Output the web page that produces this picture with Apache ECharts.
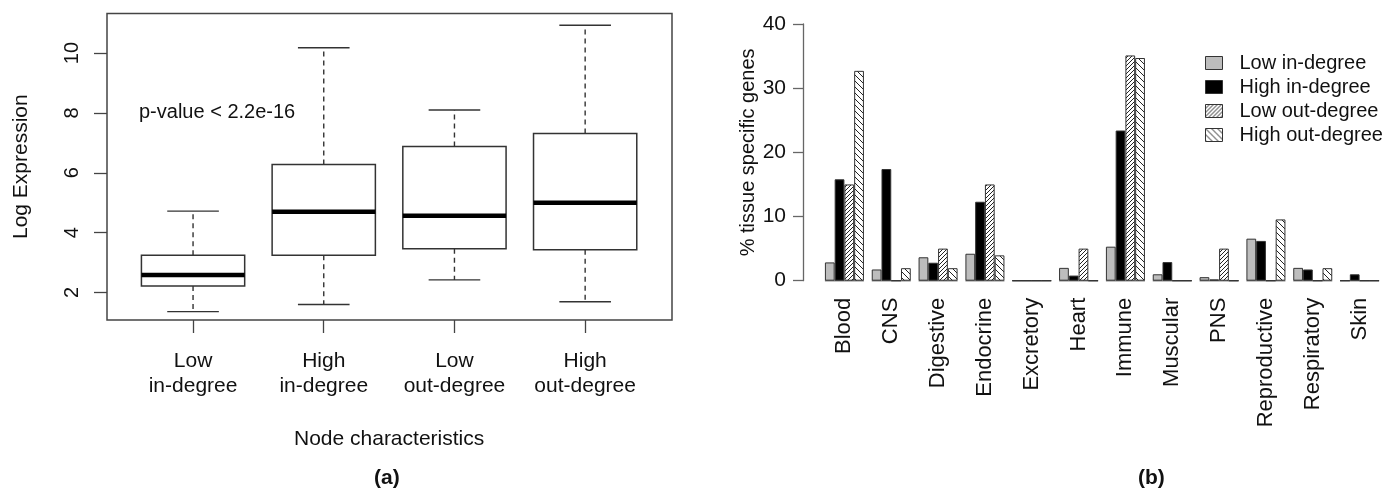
<!DOCTYPE html>
<html>
<head>
<meta charset="utf-8">
<script src="https://cdn.jsdelivr.net/npm/echarts@6/dist/echarts.min.js"></script>
<style>
html, body { margin: 0; padding: 0; background: #fff; }
#main { width: 1395px; height: 491px; }
</style>
</head>
<body>
<div id="main"></div>
<script>
// (a) boxplot: log expression by node characteristics
var boxGroups = ['Low\nin-degree', 'High\nin-degree', 'Low\nout-degree', 'High\nout-degree'];
var whiskerLow = [1.36, 1.60, 2.42, 1.69];
var quart1 = [2.22, 3.24, 3.46, 3.43];
var medians = [2.58, 4.70, 4.56, 5.00];
var quart3 = [3.24, 6.28, 6.88, 7.31];
var whiskerHigh = [4.72, 10.18, 8.10, 10.93];
var boxTicks = [2, 4, 6, 8, 10];

// (b) % tissue specific genes
var tissues = ['Blood', 'CNS', 'Digestive', 'Endocrine', 'Excretory', 'Heart', 'Immune',
    'Muscular', 'PNS', 'Reproductive', 'Respiratory', 'Skin'];
var lowIn = [2.85, 1.75, 3.65, 4.2, 0, 2.0, 5.3, 1.0, 0.55, 6.55, 2.0, 0];
var highIn = [15.8, 17.4, 2.8, 12.3, 0, 0.8, 23.4, 2.9, 0.2, 6.2, 1.75, 1.0];
var lowOut = [15.0, 0, 5.0, 15.0, 0, 5.0, 35.1, 0, 5.0, 0, 0, 0];
var highOut = [32.7, 1.95, 1.95, 3.95, 0, 0, 34.7, 0, 0, 9.55, 1.95, 0];

var font = "'Liberation Sans', Arial, sans-serif";

// hatch fill like R's density/angle
function makeHatch(size, dir) {
    var c = document.createElement('canvas');
    c.width = size;
    c.height = size;
    var ctx = c.getContext('2d');
    ctx.fillStyle = '#fff';
    ctx.fillRect(0, 0, size, size);
    ctx.strokeStyle = '#222';
    ctx.lineWidth = 1;
    ctx.beginPath();
    for (var k = -1; k <= 1; k++) {
        if (dir > 0) {
            ctx.moveTo(k * size, size);
            ctx.lineTo(k * size + size, 0);
        } else {
            ctx.moveTo(k * size, 0);
            ctx.lineTo(k * size + size, size);
        }
    }
    ctx.stroke();
    return c;
}

var boxData = boxGroups.map(function (g, i) {
    return [i, whiskerLow[i], quart1[i], medians[i], quart3[i], whiskerHigh[i]];
});

function renderBox(params, api) {
    var x = api.value(0);
    var pLo = api.coord([x, api.value(1)]);
    var pQ1 = api.coord([x, api.value(2)]);
    var pMed = api.coord([x, api.value(3)]);
    var pQ3 = api.coord([x, api.value(4)]);
    var pHi = api.coord([x, api.value(5)]);
    var bw = api.size([1, 0])[0] * 0.79;
    var cx = pMed[0];
    var line = { stroke: '#333', lineWidth: 1.4 };
    var dashed = { stroke: '#333', lineWidth: 1.4, lineDash: [5, 4] };
    return {
        type: 'group',
        children: [
            { type: 'line', shape: { x1: cx, y1: pQ3[1], x2: cx, y2: pHi[1] }, style: dashed },
            { type: 'line', shape: { x1: cx, y1: pQ1[1], x2: cx, y2: pLo[1] }, style: dashed },
            { type: 'line', shape: { x1: cx - bw / 4, y1: pHi[1], x2: cx + bw / 4, y2: pHi[1] }, style: line },
            { type: 'line', shape: { x1: cx - bw / 4, y1: pLo[1], x2: cx + bw / 4, y2: pLo[1] }, style: line },
            { type: 'rect', shape: { x: cx - bw / 2, y: pQ3[1], width: bw, height: pQ1[1] - pQ3[1] },
                style: { fill: '#fff', stroke: '#333', lineWidth: 1.5 } },
            { type: 'line', shape: { x1: cx - bw / 2, y1: pMed[1], x2: cx + bw / 2, y2: pMed[1] },
                style: { stroke: '#000', lineWidth: 4.5 } }
        ]
    };
}

// grey baseline under each tissue group (R draws zero bars as lines)
function renderBase(params, api) {
    var p = api.coord([api.value(0), 0]);
    var w = api.size([1, 0])[0] * 0.833;
    return {
        type: 'line',
        shape: { x1: p[0] - w / 2, y1: p[1], x2: p[0] + w / 2, y2: p[1] },
        style: { stroke: '#888', lineWidth: 1.5 }
    };
}

var barBorder = { borderColor: '#333', borderWidth: 1 };

var myChart = echarts.init(document.getElementById('main'));

var option = {
    animation: false,
    backgroundColor: '#fff',
    textStyle: { fontFamily: font, color: '#111' },
    grid: [
        { left: 127.7, top: 13.3, width: 522.8, height: 306.7 },
        { left: 821, top: 24, width: 562, height: 256.7 }
    ],
    legend: {
        orient: 'vertical',
        left: 1200,
        top: 48,
        icon: 'rect',
        itemWidth: 17,
        itemHeight: 13,
        itemGap: 4,
        itemStyle: { borderColor: '#333', borderWidth: 1 },
        textStyle: { fontSize: 20, lineHeight: 20, color: '#111', padding: [0, 0, 0, 12] },
        data: ['Low in-degree', 'High in-degree', 'Low out-degree', 'High out-degree']
    },
    xAxis: [
        {
            gridIndex: 0,
            type: 'category',
            data: boxGroups,
            axisLine: { show: false },
            axisTick: { show: true, interval: 0, alignWithLabel: true, length: 13, lineStyle: { color: '#444', width: 1.3 } },
            axisLabel: { interval: 0, margin: 29, fontSize: 21, lineHeight: 25, color: '#111' },
            name: 'Node characteristics',
            nameLocation: 'middle',
            nameGap: 109,
            nameTextStyle: { fontSize: 21, color: '#111' }
        },
        {
            gridIndex: 1,
            type: 'category',
            data: tissues,
            axisLine: { show: false },
            axisTick: { show: false },
            axisLabel: { rotate: 90, margin: 17, fontSize: 22, color: '#111', interval: 0 }
        }
    ],
    yAxis: [
        {
            gridIndex: 0,
            type: 'value',
            min: 1.08,
            max: 11.33,
            offset: 20.7,
            axisLine: { show: false },
            splitLine: { show: false },
            axisTick: { show: true, length: 13, customValues: boxTicks, lineStyle: { color: '#444', width: 1.3 } },
            axisLabel: { customValues: boxTicks, rotate: 90, margin: 25, fontSize: 20, color: '#111' },
            name: 'Log Expression',
            nameLocation: 'middle',
            nameRotate: 90,
            nameGap: 75,
            nameTextStyle: { fontSize: 21, color: '#111' }
        },
        {
            gridIndex: 1,
            type: 'value',
            min: 0,
            max: 40,
            interval: 10,
            offset: 18,
            axisLine: { show: true, lineStyle: { color: '#666', width: 1.3 } },
            axisTick: { show: true, length: 10, lineStyle: { color: '#666', width: 1.3 } },
            splitLine: { show: false },
            axisLabel: { margin: 17, fontSize: 21, color: '#111' },
            name: '% tissue specific genes',
            nameLocation: 'middle',
            nameRotate: 90,
            nameGap: 37,
            nameTextStyle: { fontSize: 20, color: '#111' }
        }
    ],
    graphic: [
        { type: 'rect', shape: { x: 107, y: 13.5, width: 565, height: 306.5 },
            style: { fill: null, stroke: '#444', lineWidth: 1.5 }, z: 0, silent: true },
        { type: 'text', left: 139, top: 102, style: { text: 'p-value < 2.2e-16', fontSize: 20, fontFamily: font, fill: '#111' } },
        { type: 'text', left: 374, top: 468, style: { text: '(a)', fontSize: 21, fontWeight: 'bold', fontFamily: font, fill: '#111' } },
        { type: 'text', left: 1138, top: 468, style: { text: '(b)', fontSize: 21, fontWeight: 'bold', fontFamily: font, fill: '#111' } }
    ],
    series: [
        {
            type: 'custom',
            xAxisIndex: 0,
            yAxisIndex: 0,
            renderItem: renderBox,
            encode: { x: 0, y: [1, 2, 3, 4, 5] },
            data: boxData,
            z: 3
        },
        {
            type: 'custom',
            xAxisIndex: 1,
            yAxisIndex: 1,
            renderItem: renderBase,
            encode: { x: 0, y: 1 },
            data: tissues.map(function (t, i) { return [i, 0]; }),
            z: 1
        },
        {
            name: 'Low in-degree', type: 'bar', xAxisIndex: 1, yAxisIndex: 1,
            barGap: '0%', barCategoryGap: '16.7%',
            itemStyle: Object.assign({ color: '#bdbdbd' }, barBorder),
            data: lowIn
        },
        {
            name: 'High in-degree', type: 'bar', xAxisIndex: 1, yAxisIndex: 1,
            barGap: '0%', barCategoryGap: '16.7%',
            itemStyle: Object.assign({ color: '#000' }, barBorder),
            data: highIn
        },
        {
            name: 'Low out-degree', type: 'bar', xAxisIndex: 1, yAxisIndex: 1,
            barGap: '0%', barCategoryGap: '16.7%',
            itemStyle: Object.assign({ color: { image: makeHatch(4, 1), repeat: 'repeat' } }, barBorder),
            data: lowOut
        },
        {
            name: 'High out-degree', type: 'bar', xAxisIndex: 1, yAxisIndex: 1,
            barGap: '0%', barCategoryGap: '16.7%',
            itemStyle: Object.assign({ color: { image: makeHatch(6, -1), repeat: 'repeat' } }, barBorder),
            data: highOut
        }
    ]
};

myChart.setOption(option);
</script>
</body>
</html>
